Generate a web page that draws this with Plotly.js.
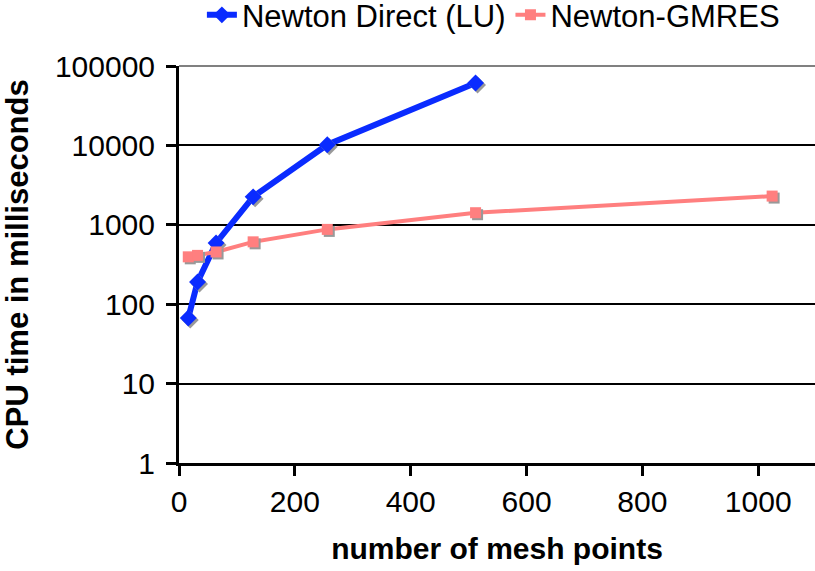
<!DOCTYPE html>
<html>
<head>
<meta charset="utf-8">
<script src="https://cdn.plot.ly/plotly-3.0.1.min.js"></script>
<style>
html,body{margin:0;padding:0;background:#fff;}
#chart{width:815px;height:571px;}
.scatterlayer .points path{filter:drop-shadow(2px 2px 0px #999999);}
</style>
</head>
<body>
<div id="chart"></div>
<script>
// Data
const meshDirect = [16, 32, 64, 128, 256, 512];
const timeDirect = [67, 190, 590, 2250, 10200, 61000];
const meshGmres = [16, 32, 64, 128, 256, 512, 1024];
const timeGmres = [395, 412, 455, 610, 875, 1420, 2300];
const seriesNames = ["Newton Direct (LU)", "Newton-GMRES"];
const yTickVals = [1, 10, 100, 1000, 10000, 100000];
const yTickText = ["1", "10", "100", "1000", "10000", "100000"];

const FONT = "'Liberation Sans', Arial, Helvetica, sans-serif";

const traces = [
  {
    x: meshDirect, y: timeDirect, name: seriesNames[0],
    type: "scatter", mode: "lines+markers",
    line: {color: "#0a2bff", width: 6},
    marker: {symbol: "diamond", size: 13, color: "#0a2bff"}
  },
  {
    x: meshGmres, y: timeGmres, name: seriesNames[1],
    type: "scatter", mode: "lines+markers",
    line: {color: "#ff7f7f", width: 4},
    marker: {symbol: "square", size: 11, color: "#ff7f7f"}
  }
];

const layout = {
  width: 815, height: 571,
  margin: {l: 179, r: 0, t: 66, b: 108, pad: 0, autoexpand: false},
  paper_bgcolor: "#fff", plot_bgcolor: "#fff",
  font: {family: FONT, size: 30, color: "#000"},
  showlegend: true,
  legend: {
    orientation: "h", x: 0.036, xanchor: "left", y: 1.196, yanchor: "top",
    font: {family: FONT, size: 31, color: "#000"},
    itemwidth: 30, tracegroupgap: 0, bgcolor: "rgba(0,0,0,0)"
  },
  shapes: [
    {type: "line", xref: "paper", yref: "paper", x0: 0, x1: 1, y0: 1, y1: 1,
     line: {color: "#808080", width: 2}, layer: "below"}
  ],
  xaxis: {
    range: [0, 1098], tickmode: "linear", tick0: 0, dtick: 200,
    showgrid: false, zeroline: false,
    showline: true, linecolor: "#000", linewidth: 3,
    ticks: "outside", ticklen: 10, tickwidth: 3, tickcolor: "#000",
    tickfont: {family: FONT, size: 30, color: "#000"},
    title: {text: "number of mesh points", font: {family: FONT, size: 30, color: "#000", weight: "bold"}, standoff: 21},
    automargin: false
  },
  yaxis: {
    type: "log", range: [0, 5],
    tickmode: "array", tickvals: yTickVals, ticktext: yTickText,
    showgrid: true, gridcolor: "#000", gridwidth: 2,
    zeroline: false,
    showline: true, linecolor: "#000", linewidth: 3,
    ticks: "outside", ticklen: 10, tickwidth: 3, tickcolor: "#000",
    ticklabelstandoff: 5,
    tickfont: {family: FONT, size: 30, color: "#000"},
    title: {text: "CPU time in milliseconds", font: {family: FONT, size: 31, color: "#000", weight: "bold"}, standoff: 22},
    automargin: false
  }
};

Plotly.newPlot("chart", traces, layout, {displayModeBar: false, staticPlot: true});
</script>
</body>
</html>
